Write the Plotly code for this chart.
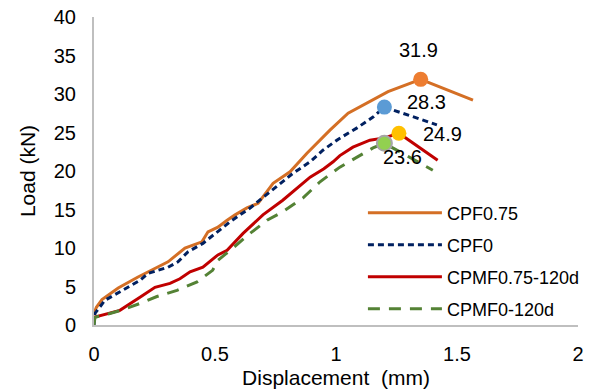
import plotly.graph_objects as go

# ---- data ----
cpf075_x = [0, 0.01, 0.033, 0.1, 0.18, 0.25, 0.306, 0.376, 0.446, 0.471, 0.512, 0.55, 0.583,
            0.632, 0.678, 0.74, 0.81, 0.88, 0.934, 0.975, 1.05, 1.215, 1.35, 1.566]
cpf075_y = [1.5, 2.3, 3.3, 4.8, 6.2, 7.3, 8.2, 10.0, 10.8, 12.1, 12.7, 13.6, 14.3,
            15.2, 15.8, 18.4, 19.9, 22.3, 24.0, 25.3, 27.5, 30.3, 31.9, 29.2]

cpf0_x = [0, 0.004, 0.045, 0.12, 0.19, 0.223, 0.306, 0.347, 0.388, 0.45, 0.512, 0.562, 0.645,
          0.7, 0.756, 0.822, 0.893, 0.946, 1.008, 1.087, 1.153, 1.2, 1.417]
cpf0_y = [0, 1.5, 3.2, 4.5, 5.8, 6.7, 7.5, 8.2, 9.5, 10.6, 12.1, 13.4, 15.2,
          16.6, 17.9, 19.7, 21.2, 22.7, 24.1, 25.6, 27.0, 28.3, 26.0]

cpmf075_x = [0, 0.107, 0.19, 0.252, 0.314, 0.355, 0.397, 0.45, 0.512, 0.55, 0.616, 0.698,
             0.78, 0.839, 0.893, 0.95, 0.988, 1.016, 1.07, 1.14, 1.2, 1.26, 1.42]
cpmf075_y = [1.0, 1.9, 3.6, 4.9, 5.4, 6.0, 6.9, 7.5, 9.1, 9.7, 11.9, 14.3,
             16.2, 17.8, 19.2, 20.3, 21.2, 22.0, 23.1, 24.0, 24.3, 24.9, 21.4]

cpmf0_x = [0, 0.004, 0.066, 0.12, 0.19, 0.26, 0.343, 0.426, 0.49, 0.512, 0.574, 0.645,
           0.715, 0.78, 0.864, 0.934, 1.016, 1.087, 1.153, 1.2, 1.4]
cpmf0_y = [0, 1.0, 1.5, 2.0, 2.8, 3.7, 4.5, 5.6, 7.1, 8.4, 10.0, 11.9,
           13.6, 14.7, 16.5, 18.6, 20.5, 21.8, 23.0, 23.6, 20.1]

peak_x = [1.35, 1.2, 1.26, 1.2]
peak_y = [31.9, 28.3, 24.9, 23.6]
peak_labels = ["31.9", "28.3", "24.9", "23.6"]

x_ticks = [0, 0.5, 1, 1.5, 2]
x_tick_labels = ["0", "0.5", "1", "1.5", "2"]
y_ticks = [0, 5, 10, 15, 20, 25, 30, 35, 40]

names = ["CPF0.75", "CPF0", "CPMF0.75-120d", "CPMF0-120d"]

# ---- styles ----
line_colors = ["#D46F25", "#002060", "#C00000", "#548235"]
line_dashes = ["solid", "6px,4px", "solid", "12px,9px"]
marker_colors = ["#ED7D31", "#5B9BD5", "#FFC000", "#92D050"]
marker_lines = ["#ED7D31", "#5B9BD5", "#FFC000", "#A5A5A5"]
label_shift = [(-2, 29), (42, 5), (44, -1), (18, -14)]

FONT = "Liberation Sans, Arial, sans-serif"

fig = go.Figure()
series = [(cpf075_x, cpf075_y), (cpf0_x, cpf0_y), (cpmf075_x, cpmf075_y), (cpmf0_x, cpmf0_y)]
legend_ids = ["legend", "legend2", "legend3", "legend4"]
for i, ((xs, ys), nm) in enumerate(zip(series, names)):
    fig.add_trace(go.Scatter(
        x=xs, y=ys, mode="lines", name=nm,
        line=dict(color=line_colors[i], width=3, dash=line_dashes[i]),
        legend=legend_ids[i], showlegend=True,
    ))

for i in range(4):
    fig.add_trace(go.Scatter(
        x=[peak_x[i]], y=[peak_y[i]], mode="markers", showlegend=False,
        marker=dict(size=15, color=marker_colors[i],
                    line=dict(color=marker_lines[i], width=2 if i == 3 else 0)),
    ))
    fig.add_annotation(x=peak_x[i], y=peak_y[i], text=peak_labels[i], showarrow=False,
                       xshift=label_shift[i][0], yshift=label_shift[i][1],
                       font=dict(family=FONT, size=20, color="#000000"))

legend_common = dict(
    font=dict(family=FONT, size=18, color="#000000"),
    bgcolor="rgba(0,0,0,0)", xanchor="left", yanchor="middle",
    itemwidth=74, x=0.612, xref="container", yref="container",
)
legend_y = [0.4552, 0.3734, 0.2916, 0.2097]
layout_legends = {}
for lid, ly in zip(legend_ids, legend_y):
    layout_legends[lid] = dict(legend_common, y=ly)

fig.update_layout(
    width=593, height=391,
    margin=dict(l=94, r=15, t=17, b=66, autoexpand=False),
    paper_bgcolor="white", plot_bgcolor="white",
    font=dict(family=FONT, size=20, color="#000000"),
    xaxis=dict(range=[0, 2], tickvals=x_ticks, ticktext=x_tick_labels,
               showgrid=False, zeroline=False, showline=True, linecolor="#BFBFBF",
               linewidth=2, ticks="", ticklabelstandoff=10, automargin=False,
               title=dict(text="Displacement  (mm)", font=dict(size=21), standoff=6)),
    yaxis=dict(range=[0, 40], tickvals=y_ticks,
               showgrid=False, zeroline=False, showline=True, linecolor="#BFBFBF",
               linewidth=2, ticks="", ticklabelstandoff=12, automargin=False,
               title=dict(text="Load (kN)", font=dict(size=21), standoff=12)),
    **layout_legends,
)

fig.write_html("out.html")
